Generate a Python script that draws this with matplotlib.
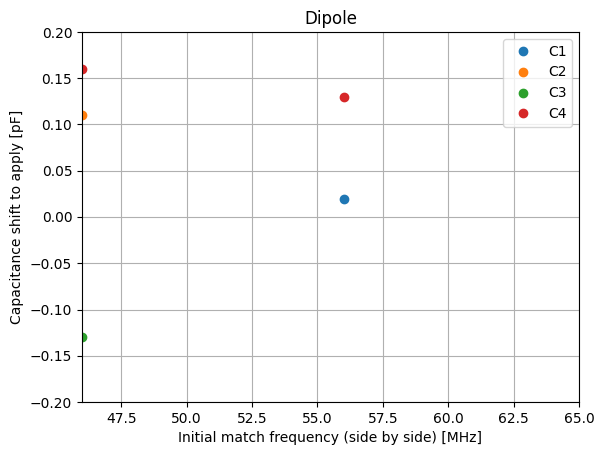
import matplotlib
matplotlib.use("Agg")
import matplotlib.pyplot as plt

labels = ["C1", "C2", "C3", "C4"]
c1_x = [56.0]
c1_y = [0.02]
c2_x = [46.0]
c2_y = [0.11]
c3_x = [46.0]
c3_y = [-0.13]
c4_x = [46.0, 56.0]
c4_y = [0.16, 0.13]

fig = plt.figure(figsize=(6.03, 4.55), dpi=100)
ax = fig.add_axes([82/603, 1-402/455, (579-82)/603, (402-32)/455])
for lab, xs, ys in zip(labels, [c1_x, c2_x, c3_x, c4_x], [c1_y, c2_y, c3_y, c4_y]):
    ax.plot(xs, ys, "o", label=lab)
ax.set_xlim(46.0, 65.0)
ax.set_ylim(-0.2, 0.2)
ax.set_xticks([47.5, 50.0, 52.5, 55.0, 57.5, 60.0, 62.5, 65.0])
ax.grid(True)
ax.set_title("Dipole")
ax.set_xlabel("Initial match frequency (side by side) [MHz]")
ax.set_ylabel("Capacitance shift to apply [pF]")
ax.legend(loc="upper right")
fig.savefig("out.png", dpi=100)
